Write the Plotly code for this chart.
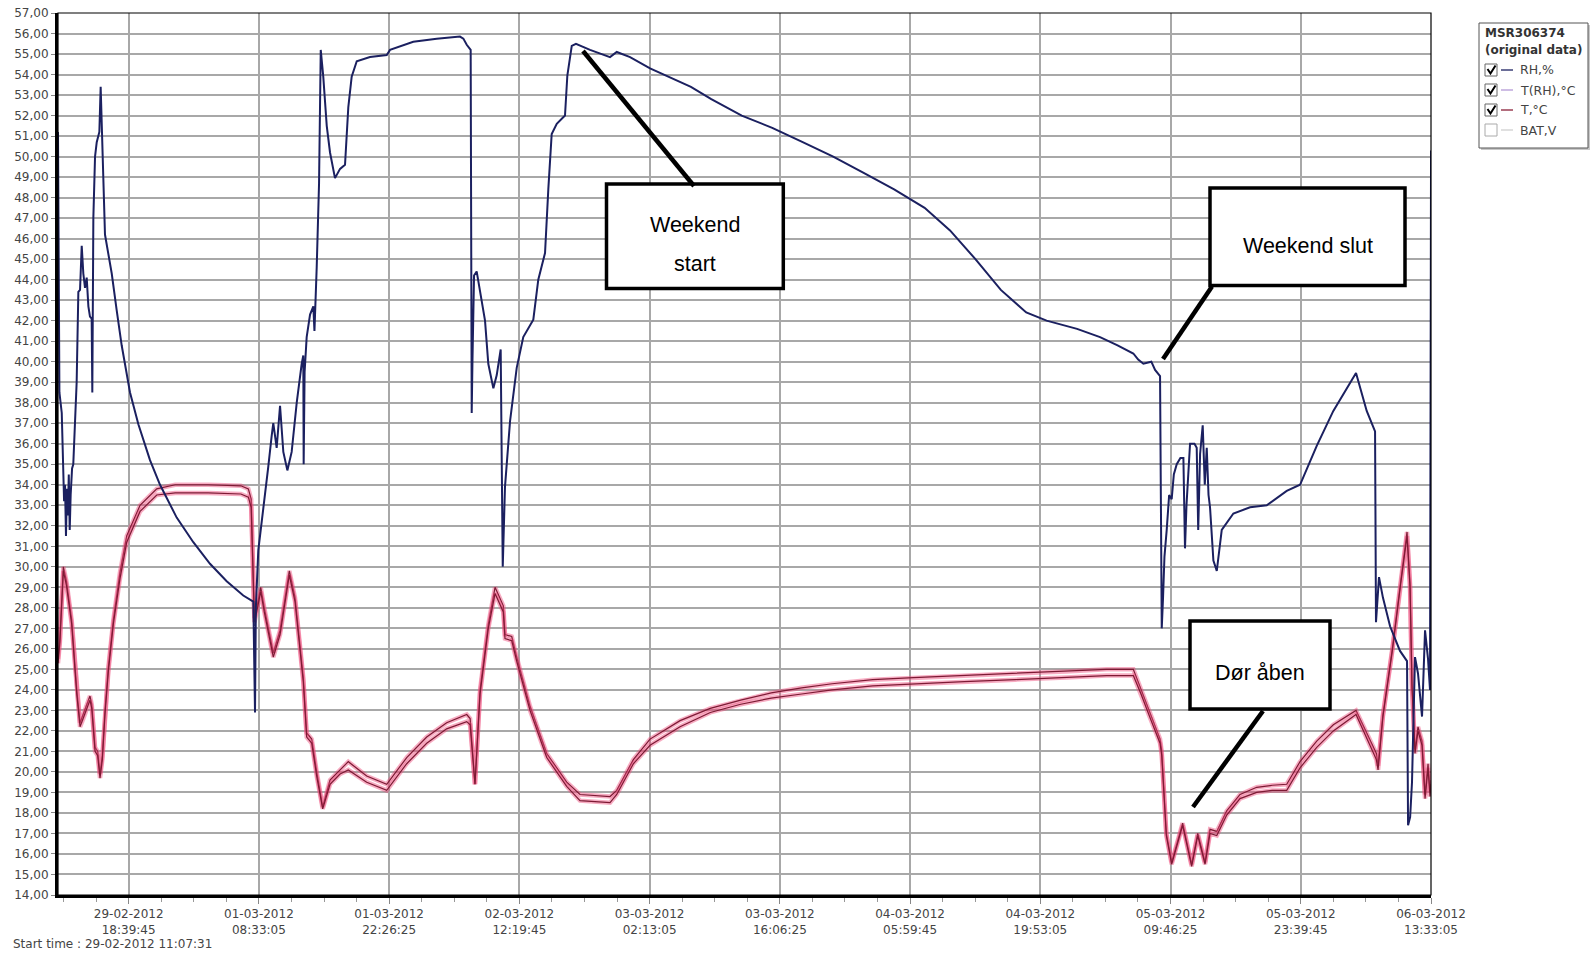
import pandas as pd
import plotly.graph_objects as go

START = pd.Timestamp("2012-02-29 11:07:31")
END = START + pd.Timedelta(seconds=527134)
TICK0 = "2012-02-29 18:39:45"

# ---- data (hours since start time) ----
rh_hours = [0.0, 0.05, 0.15, 0.4, 0.55, 0.65, 0.75, 0.85, 0.95, 1.05, 1.15, 1.25, 1.35, 1.5, 1.63, 1.81,
            1.99, 2.17, 2.35, 2.53, 2.70, 2.88, 3.06, 3.24, 3.41, 3.59, 3.66, 3.77, 3.95, 4.13, 4.41, 4.55,
            4.66, 4.83, 5.01, 5.37, 5.73, 6.26, 6.79, 7.68, 8.57, 9.81, 10.88, 12.66, 14.43, 16.21, 17.99,
            19.76, 20.83, 21.01, 21.1, 21.36, 21.90, 22.43, 22.79, 22.96, 23.32, 23.68, 24.03, 24.46, 24.92,
            25.46, 25.99, 26.16, 26.2, 26.3, 26.52, 26.88, 27.23, 27.35, 27.59, 27.84, 28.02, 28.29, 28.66,
            29.01, 29.54, 30.08, 30.61, 30.96, 31.32, 31.86, 33.27, 35.06, 35.41, 37.89, 40.39, 42.87, 43.23,
            43.59, 44.01, 44.12, 44.2, 44.37, 44.65, 45.01, 45.54, 45.89, 46.43, 46.79, 47.21, 47.43, 47.55,
            47.67, 48.21, 48.92, 49.62, 50.69, 51.22, 51.94, 52.29, 52.65, 53.19, 54.07, 54.32, 54.79, 55.24,
            56.74, 58.87, 59.59, 61.01, 63.14, 67.50, 69.67, 72.92, 76.17, 79.42, 82.67, 85.92, 89.17, 92.42,
            95.13, 97.84, 100.55, 103.26, 105.43, 108.68, 111.13, 113.0, 114.68, 115.2, 115.75, 116.6, 117.0,
            117.53, 117.71, 117.85, 118.0, 118.24, 118.5, 118.77, 119.0, 119.31, 119.7, 120.02, 120.19, 120.35,
            120.55, 120.73, 121.2, 121.44, 121.60, 121.8, 122.08, 122.3, 122.51, 122.7, 122.86, 123.22, 123.58,
            124.11, 125.35, 127.13, 128.91, 131.04, 132.46, 134.24, 136.01, 138.43, 139.57, 140.46, 140.56,
            140.88, 141.3, 142.06, 143.12, 143.87, 143.98, 144.2, 144.40, 144.72, 145.04, 145.47, 145.79,
            146.11, 146.32, 146.43]
rh_values = [51.2, 44.0, 38.5, 37.5, 34.5, 33.2, 34.0, 31.5, 33.8, 32.5, 34.5, 31.8, 33.5, 34.8, 35.0, 36.95,
             39.0, 43.4, 43.5, 45.65, 44.3, 43.6, 44.1, 42.7, 42.2, 42.1, 38.5, 47.0, 50.0, 50.7, 51.2, 53.4,
             51.0, 49.0, 46.2, 45.3, 44.3, 42.5, 40.8, 38.5, 36.95, 35.2, 34.0, 32.4, 31.2, 30.15, 29.3,
             28.6, 28.3, 22.9, 28.0, 30.8, 32.8, 34.9, 36.4, 37.0, 35.8, 37.85, 35.6, 34.7, 35.6,
             38.0, 39.9, 40.3, 35.0, 39.5, 41.2, 42.3, 42.7, 41.5, 44.6, 48.7, 55.2, 53.9, 51.5,
             50.2, 48.95, 49.4, 49.6, 52.4, 53.9, 54.65, 54.85, 54.95, 55.2, 55.6, 55.75, 55.85, 55.75,
             55.45, 55.2, 37.5, 40.0, 44.2, 44.4, 43.45, 42.0, 39.9, 38.7, 39.35, 40.6, 30.0, 31.5,
             33.9, 37.1, 39.7, 41.2, 42.05, 44.0, 45.3, 48.4, 51.1, 51.6, 52.0, 53.95, 55.4, 55.5,
             55.2, 54.85, 55.1, 54.85, 54.3, 53.4, 52.8, 52.0, 51.4, 50.7, 50.0, 49.2, 48.4, 47.5,
             46.4, 45.0, 43.5, 42.4, 42.0, 41.6, 41.2, 40.8, 40.4, 40.1, 39.9, 40.0, 39.6,
             39.3, 27.0, 28.5, 30.5, 31.8, 33.5, 33.3, 34.5, 35.0, 35.3, 35.3, 30.9, 33.0,
             34.5, 36.0, 36.0, 35.8, 31.8, 35.5, 36.9, 34.0, 35.8, 33.5, 32.9, 30.3, 29.8,
             31.8, 32.6, 32.9, 33.0, 33.7, 34.0, 35.9, 37.6, 39.45, 37.6, 36.6, 27.3,
             29.5, 28.5, 27.1, 25.9, 25.4, 17.4, 17.8, 19.5, 25.6, 24.8, 22.7, 26.9,
             25.5, 24.0, 50.3]

t_hours = [0.0, 0.2, 0.57, 0.9, 1.46, 2.0, 2.35, 2.70, 3.05, 3.41, 3.6, 3.77, 3.95, 4.23, 4.48, 4.73, 5.01,
           5.37, 5.90, 6.6, 7.33, 8.75, 10.53, 12.5, 16.0, 19.5, 20.3, 20.6, 20.8, 20.95, 21.19, 21.62, 22.0,
           22.96, 23.68, 24.67, 25.28, 26.16, 26.52, 27.06, 27.59, 28.23, 29.01, 30.08, 30.96, 32.92, 35.06,
           37.19, 39.32, 41.45, 43.59, 43.95, 44.47, 45.01, 45.89, 46.61, 47.49, 47.67, 48.39, 48.92, 50.34,
           52.12, 54.25, 55.67, 58.87, 59.59, 61.36, 63.14, 66.34, 69.56, 72.81, 76.06, 79.31, 82.56, 86.90,
           91.23, 96.65, 102.07, 107.49, 111.82, 114.68, 115.5, 116.5, 117.53, 117.71, 118.2, 118.77, 119.94,
           120.90, 121.55, 122.33, 122.86, 123.58, 124.64, 126.06, 127.84, 129.5, 131.04, 132.46, 134.24,
           136.01, 138.43, 140.6, 140.78, 141.3, 142.3, 143.2, 143.87, 144.19, 144.40, 144.72, 145.04, 145.47,
           145.79, 146.11, 146.32, 146.43]
trh_values = [25.5, 26.5, 30.0, 29.3, 27.4, 24.0, 22.4, 22.8, 23.2, 23.7, 23.3, 22.0, 21.2, 21.0, 19.9, 20.8, 23.0,
              25.1, 27.4, 29.7, 31.5, 33.0, 33.8, 34.0, 34.0, 33.95, 33.8, 33.3, 30.0, 27.5, 28.0, 29.0, 28.0,
              25.8, 26.9, 29.8, 28.5, 24.6, 21.9, 21.6, 20.0, 18.3, 19.6, 20.1, 20.5, 19.8, 19.4,
              20.7, 21.7, 22.4, 22.8, 22.6, 19.4, 24.0, 27.2, 29.0, 28.1, 26.7, 26.6, 25.6, 23.2,
              20.9, 19.5, 18.9, 18.8, 19.1, 20.6, 21.6, 22.5, 23.1, 23.5, 23.85, 24.1, 24.3, 24.5,
              24.6, 24.7, 24.8, 24.9, 25.0, 25.0, 24.0, 22.8, 21.6, 21.0, 17.0, 15.6, 17.5,
              15.5, 17.0, 15.6, 17.2, 17.1, 18.1, 18.9, 19.25, 19.35, 19.4, 20.5, 21.5,
              22.3, 23.0, 20.9, 20.3, 22.8, 26.0, 29.3, 31.7, 29.2, 24.3, 21.1, 22.2, 21.5,
              18.9, 20.4, 19.0, 19.6]
t_values = [25.3, 26.3, 29.8, 29.1, 27.2, 23.8, 22.2, 22.6, 23.0, 23.5, 23.1, 21.8, 21.0, 20.8, 19.7, 20.6, 22.8,
            24.9, 27.2, 29.4, 31.2, 32.7, 33.5, 33.6, 33.6, 33.55, 33.4, 32.9, 29.8, 27.3, 27.8, 28.8, 27.8,
            25.6, 26.7, 29.6, 28.3, 24.4, 21.7, 21.4, 19.8, 18.2, 19.4, 19.9, 20.1, 19.5, 19.1,
            20.4, 21.4, 22.1, 22.45, 22.3, 19.4, 23.8, 27.0, 28.7, 27.8, 26.5, 26.4, 25.4, 23.0,
            20.7, 19.3, 18.6, 18.5, 18.9, 20.4, 21.3, 22.2, 22.9, 23.3, 23.6, 23.8, 24.0, 24.2,
            24.3, 24.4, 24.5, 24.6, 24.7, 24.7, 23.8, 22.6, 21.4, 20.8, 16.9, 15.5, 17.4,
            15.4, 16.9, 15.5, 17.0, 16.9, 17.9, 18.7, 19.0, 19.1, 19.1, 20.2, 21.2,
            22.0, 22.8, 20.6, 20.1, 22.7, 25.9, 29.2, 31.5, 29.0, 24.1, 20.9, 22.0, 21.3,
            18.7, 20.2, 18.8, 19.4]

legend_labels = ["RH,%", "T(RH),°C", "T,°C", "BAT,V"]
legend_colors = ["#1b2060", "#b39ad6", "#8a2038", "#d0d0d0"]
legend_checked = [True, True, True, False]

TICK_FONT = "DejaVu Sans, Verdana, sans-serif"
BOX_FONT = "Liberation Sans, Arial"


def to_time(hours):
    return [START + pd.Timedelta(hours=h) for h in hours]


rh_x = to_time(rh_hours)
t_x = to_time(t_hours)

fig = go.Figure()
for vals in (trh_values, t_values):
    fig.add_trace(go.Scatter(x=t_x, y=vals, mode="lines",
                             line=dict(color="rgba(238,70,120,0.45)", width=4.5),
                             hoverinfo="skip", showlegend=False))
    fig.add_trace(go.Scatter(x=t_x, y=vals, mode="lines",
                             line=dict(color="#7d1a34", width=1.2), showlegend=False))
fig.add_trace(go.Scatter(x=rh_x, y=rh_values, mode="lines",
                         line=dict(color="#1b2060", width=2), showlegend=False))

# layout helpers (pixel -> paper)
L, R, T, B = 58, 1431, 13, 895
W, H = 1593, 953


def px(x):
    return (x - L) / (R - L)


def py(y):
    return (B - y) / (B - T)


shapes = []
annotations = []

# plot frame (thin top/right)
shapes.append(dict(type="rect", xref="paper", yref="paper", x0=0, x1=1, y0=0, y1=1,
                   line=dict(color="black", width=1.2)))

# callout boxes
boxes = [
    ((606.5, 184, 783.3, 288.5), [("Weekend", 695, 224.5), ("start", 695, 264)], ((694, 186), (583, 51))),
    ((1210, 188, 1405, 285.5), [("Weekend slut", 1307.5, 246)], ((1212, 286.5), (1163, 359))),
    ((1190, 621, 1330, 709), [("Dør åben", 1260, 673)], ((1263, 711), (1193, 807))),
]
for (x0, y0, x1, y1), texts, (p0, p1) in boxes:
    shapes.append(dict(type="rect", xref="paper", yref="paper", x0=px(x0), x1=px(x1), y0=py(y1), y1=py(y0),
                       line=dict(color="black", width=3.5), fillcolor="white", layer="above"))
    shapes.append(dict(type="line", xref="paper", yref="paper", x0=px(p0[0]), y0=py(p0[1]),
                       x1=px(p1[0]), y1=py(p1[1]), line=dict(color="black", width=4.5), layer="above"))
    for txt, tx, ty in texts:
        annotations.append(dict(text=txt, xref="paper", yref="paper", x=px(tx), y=py(ty),
                                showarrow=False, xanchor="center", yanchor="middle",
                                font=dict(size=21.5, color="black", family=BOX_FONT)))

# custom legend box
shapes.append(dict(type="rect", xref="paper", yref="paper", x0=px(1481), x1=px(1590), y0=py(150), y1=py(25),
                   line=dict(width=0), fillcolor="#c8c8c8", layer="above"))
shapes.append(dict(type="rect", xref="paper", yref="paper", x0=px(1479), x1=px(1588), y0=py(148), y1=py(23),
                   line=dict(color="#555555", width=1), fillcolor="white", layer="above"))
annotations.append(dict(text="<b>MSR306374</b>", xref="paper", yref="paper", x=px(1483), y=py(33),
                        showarrow=False, xanchor="left", yanchor="middle",
                        font=dict(size=12, color="#333333", family=TICK_FONT)))
annotations.append(dict(text="<b>(original data)</b>", xref="paper", yref="paper", x=px(1483), y=py(50),
                        showarrow=False, xanchor="left", yanchor="middle",
                        font=dict(size=12, color="#333333", family=TICK_FONT)))
for i, (lab, col, chk) in enumerate(zip(legend_labels, legend_colors, legend_checked)):
    cy = 70 + 20 * i
    shapes.append(dict(type="rect", xref="paper", yref="paper", x0=px(1485), x1=px(1497), y0=py(cy + 6),
                       y1=py(cy - 6), line=dict(color="#666666" if chk else "#aaaaaa", width=1),
                       fillcolor="white", layer="above"))
    if chk:
        shapes.append(dict(type="path", xref="paper", yref="paper",
                           path=f"M {px(1487.5)},{py(cy - 1)} L {px(1490.5)},{py(cy + 3.5)} L {px(1495.5)},{py(cy - 4.5)}",
                           line=dict(color="black", width=2), layer="above"))
    shapes.append(dict(type="line", xref="paper", yref="paper", x0=px(1501), x1=px(1513), y0=py(cy), y1=py(cy),
                       line=dict(color=col, width=1.3), layer="above"))
    annotations.append(dict(text=lab, xref="paper", yref="paper", x=px(1518), y=py(cy),
                            showarrow=False, xanchor="left", yanchor="middle",
                            font=dict(size=12.5, color="#444444", family=TICK_FONT)))

annotations.append(dict(text="Start time : 29-02-2012 11:07:31", xref="paper", yref="paper",
                        x=px(11), y=py(944), showarrow=False, xanchor="left", yanchor="middle",
                        font=dict(size=12, color="#444444", family=TICK_FONT)))

fig.update_layout(
    width=W, height=H,
    margin=dict(l=L, r=W - R, t=T, b=H - B, autoexpand=False),
    paper_bgcolor="white", plot_bgcolor="white",
    separators=",.",
    font=dict(family=TICK_FONT, size=12, color="#444444"),
    shapes=shapes, annotations=annotations,
    xaxis=dict(type="date", range=[START, END], tick0=TICK0, dtick=50000000,
               tickformat="%d-%m-%Y<br>%H:%M:%S", showgrid=True, gridcolor="#a8a8a8", gridwidth=1.5,
               showline=True, linecolor="black", linewidth=3, ticks="outside", ticklen=6,
               tickcolor="#888888", zeroline=False, tickfont=dict(size=12, color="#444444", family=TICK_FONT),
               minor=dict(tick0=TICK0, dtick=12500000, ticks="outside", ticklen=4, tickcolor="#999999",
                          showgrid=False)),
    yaxis=dict(range=[14, 57], dtick=1, tickformat=".2f", showgrid=True, gridcolor="#a8a8a8", gridwidth=1.5,
               showline=True, linecolor="black", linewidth=3, ticks="outside", ticklen=4,
               tickcolor="#888888", zeroline=False, tickfont=dict(size=12, color="#444444", family=TICK_FONT)),
)

fig.write_html("out.html", config={"displayModeBar": False},
               post_script="document.body.style.margin='0';document.body.style.overflow='hidden';")
